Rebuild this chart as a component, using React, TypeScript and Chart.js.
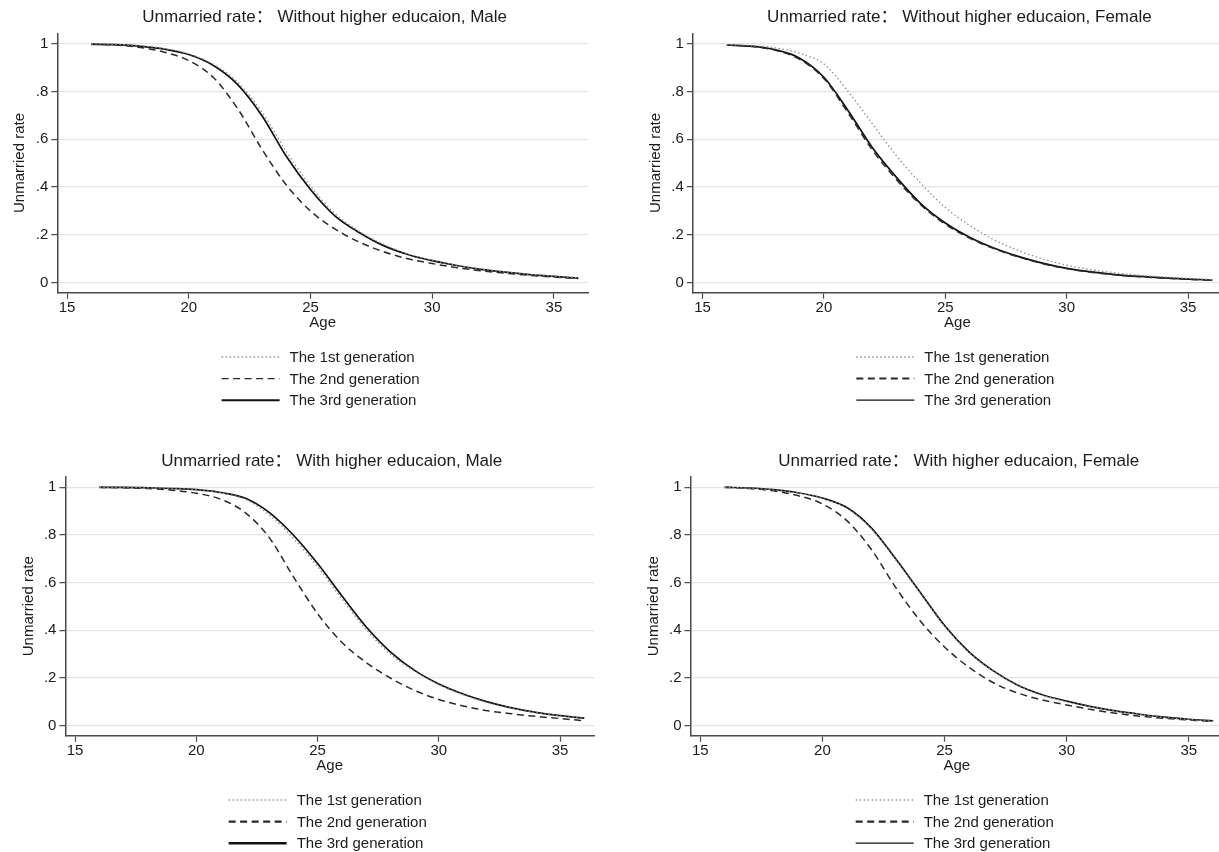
import React, { useEffect, useRef } from "react";
import { Chart, registerables } from "chart.js";

Chart.register(...registerables);

// ---------- data ----------
const AGES = [16, 17, 18, 19, 20, 21, 22, 23, 24, 25, 26, 27, 28, 29, 30, 31, 32, 33, 34, 35, 36];
const X_TICKS = [15, 20, 25, 30, 35];
const Y_TICKS = [0, 0.2, 0.4, 0.6, 0.8, 1];
const Y_TICK_LABELS = ["0", ".2", ".4", ".6", ".8", "1"];
const LEGEND_LABELS = ["The 1st generation", "The 2nd generation", "The 3rd generation"];
const X_TITLE = "Age";
const Y_TITLE = "Unmarried rate";

const TITLE_TL = "Unmarried rate： Without higher educaion, Male";
const TITLE_TR = "Unmarried rate： Without higher educaion, Female";
const TITLE_BL = "Unmarried rate： With higher educaion, Male";
const TITLE_BR = "Unmarried rate： With higher educaion, Female";

// Without higher education, Male
const NOHE_MALE_G1 = [1.0, 0.998, 0.992, 0.98, 0.958, 0.915, 0.84, 0.715, 0.55, 0.405, 0.29, 0.215, 0.16, 0.12, 0.094, 0.073, 0.057, 0.045, 0.035, 0.027, 0.02];
const NOHE_MALE_G2 = [0.999, 0.995, 0.985, 0.965, 0.93, 0.86, 0.73, 0.56, 0.41, 0.3, 0.225, 0.17, 0.13, 0.1, 0.08, 0.063, 0.05, 0.04, 0.031, 0.024, 0.017];
const NOHE_MALE_G3 = [0.998, 0.997, 0.99, 0.978, 0.955, 0.91, 0.83, 0.7, 0.53, 0.39, 0.28, 0.21, 0.155, 0.118, 0.092, 0.072, 0.056, 0.044, 0.034, 0.026, 0.019];

// Without higher education, Female
const NOHE_FEMALE_G1 = [0.997, 0.993, 0.983, 0.96, 0.915, 0.8, 0.665, 0.53, 0.415, 0.315, 0.24, 0.18, 0.135, 0.1, 0.073, 0.055, 0.041, 0.031, 0.024, 0.018, 0.013];
const NOHE_FEMALE_G2 = [0.995, 0.989, 0.973, 0.935, 0.855, 0.71, 0.555, 0.43, 0.325, 0.245, 0.187, 0.143, 0.108, 0.08, 0.059, 0.044, 0.033, 0.025, 0.019, 0.014, 0.01];
const NOHE_FEMALE_G3 = [0.995, 0.99, 0.975, 0.94, 0.86, 0.72, 0.565, 0.44, 0.33, 0.25, 0.19, 0.145, 0.11, 0.082, 0.06, 0.045, 0.034, 0.026, 0.02, 0.015, 0.011];

// With higher education, Male
const HE_MALE_G1 = [1.0, 1.0, 0.998, 0.995, 0.99, 0.977, 0.95, 0.885, 0.787, 0.667, 0.532, 0.404, 0.3, 0.228, 0.172, 0.13, 0.097, 0.073, 0.055, 0.041, 0.031];
const HE_MALE_G2 = [1.0, 0.998, 0.995, 0.988, 0.975, 0.95, 0.895, 0.79, 0.625, 0.47, 0.35, 0.265, 0.2, 0.148, 0.11, 0.083, 0.063, 0.05, 0.039, 0.03, 0.021];
const HE_MALE_G3 = [1.0, 1.0, 0.998, 0.995, 0.99, 0.978, 0.955, 0.895, 0.8, 0.68, 0.545, 0.415, 0.31, 0.232, 0.175, 0.133, 0.1, 0.075, 0.056, 0.042, 0.032];

// With higher education, Female
const HE_FEMALE_G1 = [1.0, 0.996, 0.989, 0.976, 0.953, 0.912, 0.826, 0.696, 0.556, 0.417, 0.307, 0.228, 0.168, 0.128, 0.101, 0.079, 0.061, 0.047, 0.035, 0.026, 0.019];
const HE_FEMALE_G2 = [1.0, 0.995, 0.985, 0.965, 0.93, 0.86, 0.74, 0.58, 0.44, 0.33, 0.245, 0.18, 0.137, 0.108, 0.087, 0.068, 0.052, 0.04, 0.031, 0.024, 0.017];
const HE_FEMALE_G3 = [1.0, 0.997, 0.99, 0.977, 0.955, 0.915, 0.83, 0.7, 0.56, 0.42, 0.31, 0.23, 0.17, 0.13, 0.103, 0.08, 0.062, 0.048, 0.036, 0.027, 0.02];

// ---------- style ----------
const FONT = "'Liberation Sans', Arial, Helvetica, 'Noto Sans CJK SC', sans-serif";
const TEXT = "#1c1c1c";
const AXIS = "#4a4a4a";
const GRID = "#e4e4e4";

const SERIES_STYLE = [
  { color: "#909090", width: 1.3, dash: [1.5, 2.5] },
  { color: "#2a2a2a", width: 1.5, dash: [7, 4.5] },
  { color: "#111111", width: 1.7, dash: [] as number[] },
];

const panelDecor = {
  id: "panelDecor",
  afterDraw(chart: any, _args: any, opts: any) {
    const { ctx, chartArea } = chart;
    const cx = (chartArea.left + chartArea.right) / 2;
    ctx.save();
    ctx.fillStyle = TEXT;
    ctx.font = `17px ${FONT}`;
    ctx.textAlign = "center";
    ctx.textBaseline = "middle";
    ctx.fillText(opts.title, cx + 2, chartArea.top - 15.5);

    ctx.font = `15px ${FONT}`;
    const ds = chart.data.datasets;
    const widths = ds.map((d: any) => ctx.measureText(d.label).width);
    const sample = 58;
    const gap = 10;
    const bw = sample + gap + Math.max(...widths);
    const left = cx - bw / 2 - 2;
    ds.forEach((d: any, i: number) => {
      const y = chartArea.bottom + 64.3 + i * 21.6;
      ctx.save();
      ctx.strokeStyle = d.borderColor;
      ctx.lineWidth = (opts.legendWidths && opts.legendWidths[i]) || d.borderWidth;
      ctx.setLineDash(d.borderDash || []);
      ctx.beginPath();
      ctx.moveTo(left, y);
      ctx.lineTo(left + sample, y);
      ctx.stroke();
      ctx.restore();
      ctx.textAlign = "left";
      ctx.fillText(d.label, left + sample + gap, y + 1);
    });
    ctx.restore();
  },
};

type PanelProps = {
  left: number;
  top: number;
  width: number;
  height: number;
  areaLeft: number; // relative to canvas
  areaRight: number;
  areaTop: number;
  areaBottom: number;
  title: string;
  series: number[][];
  legendWidths: number[];
};

const Y_SCALE_W = 53.3;
const X_SCALE_H = 39.6;

function Panel(p: PanelProps) {
  const ref = useRef<HTMLCanvasElement | null>(null);
  useEffect(() => {
    if (!ref.current) return;
    const chart = new Chart(ref.current, {
      type: "line",
      data: {
        datasets: p.series.map((vals, i) => ({
          label: LEGEND_LABELS[i],
          data: AGES.map((a, j) => ({ x: a, y: vals[j] })),
          borderColor: SERIES_STYLE[i].color,
          borderWidth: SERIES_STYLE[i].width,
          borderDash: SERIES_STYLE[i].dash,
          pointRadius: 0,
          fill: false,
          cubicInterpolationMode: "monotone" as const,
        })),
      },
      options: {
        responsive: false,
        animation: false,
        devicePixelRatio: 1,
        layout: {
          padding: {
            left: p.areaLeft - Y_SCALE_W,
            right: p.width - p.areaRight,
            top: p.areaTop,
            bottom: p.height - p.areaBottom - X_SCALE_H,
          },
        },
        plugins: {
          legend: { display: false },
          title: { display: false },
          tooltip: { enabled: false },
          panelDecor: { title: p.title, legendWidths: p.legendWidths },
        } as any,
        scales: {
          x: {
            type: "linear",
            min: 14.6,
            max: 36.4,
            afterBuildTicks: (s: any) => {
              s.ticks = X_TICKS.map((v) => ({ value: v }));
            },
            afterFit: (s: any) => {
              s.height = X_SCALE_H;
            },
            grid: {
              drawOnChartArea: false,
              drawTicks: true,
              tickLength: 6,
              tickColor: AXIS,
              tickWidth: 1.2,
            },
            border: { display: true, color: AXIS, width: 1.5 },
            ticks: {
              padding: 0,
              color: TEXT,
              font: { size: 15, family: FONT },
              maxRotation: 0,
              autoSkip: false,
              callback: (v: any) => String(v),
            },
            title: {
              display: true,
              text: X_TITLE,
              color: TEXT,
              font: { size: 15, family: FONT },
              padding: { top: 0, bottom: 0 },
            },
          },
          y: {
            type: "linear",
            min: -0.042,
            max: 1.044,
            afterBuildTicks: (s: any) => {
              s.ticks = Y_TICKS.map((v) => ({ value: v }));
            },
            afterFit: (s: any) => {
              s.width = Y_SCALE_W;
            },
            grid: {
              color: GRID,
              lineWidth: 1.3,
              drawTicks: true,
              tickLength: 6,
              tickColor: AXIS,
              tickWidth: 1.2,
            },
            border: { display: true, color: AXIS, width: 1.5 },
            ticks: {
              padding: 3,
              color: TEXT,
              font: { size: 15, family: FONT },
              callback: (v: any) => {
                const idx = Y_TICKS.findIndex((t) => Math.abs(t - Number(v)) < 1e-6);
                return idx >= 0 ? Y_TICK_LABELS[idx] : "";
              },
            },
            title: {
              display: true,
              text: Y_TITLE,
              color: TEXT,
              font: { size: 15, family: FONT },
              padding: { top: 7.3, bottom: 0 },
            },
          },
        },
      },
      plugins: [panelDecor],
    } as any);
    return () => chart.destroy();
  }, []);
  return (
    <canvas
      ref={ref}
      width={p.width}
      height={p.height}
      style={{ position: "absolute", left: p.left, top: p.top, width: p.width, height: p.height }}
    />
  );
}

export default function App() {
  return (
    <div
      style={{
        position: "fixed",
        left: 0,
        top: 0,
        width: 1219,
        height: 852,
        overflow: "hidden",
        background: "#ffffff",
      }}
    >
      <Panel
        left={0}
        top={0}
        width={610}
        height={425}
        areaLeft={57.3}
        areaRight={588}
        areaTop={33.3}
        areaBottom={292.7}
        title={TITLE_TL}
        series={[NOHE_MALE_G1, NOHE_MALE_G2, NOHE_MALE_G3]}
        legendWidths={[1.3, 1.3, 2]}
      />
      <Panel
        left={610}
        top={0}
        width={630}
        height={425}
        areaLeft={82.8}
        areaRight={612}
        areaTop={33.3}
        areaBottom={292.7}
        title={TITLE_TR}
        series={[NOHE_FEMALE_G1, NOHE_FEMALE_G2, NOHE_FEMALE_G3]}
        legendWidths={[1.3, 2, 1.2]}
      />
      <Panel
        left={0}
        top={425}
        width={610}
        height={427}
        areaLeft={65.4}
        areaRight={594}
        areaTop={51.8}
        areaBottom={310.7}
        title={TITLE_BL}
        series={[HE_MALE_G1, HE_MALE_G2, HE_MALE_G3]}
        legendWidths={[1.3, 2.2, 2.4]}
      />
      <Panel
        left={610}
        top={425}
        width={630}
        height={427}
        areaLeft={80.5}
        areaRight={613}
        areaTop={51.8}
        areaBottom={310.7}
        title={TITLE_BR}
        series={[HE_FEMALE_G1, HE_FEMALE_G2, HE_FEMALE_G3]}
        legendWidths={[1.3, 2.2, 1.2]}
      />
    </div>
  );
}
